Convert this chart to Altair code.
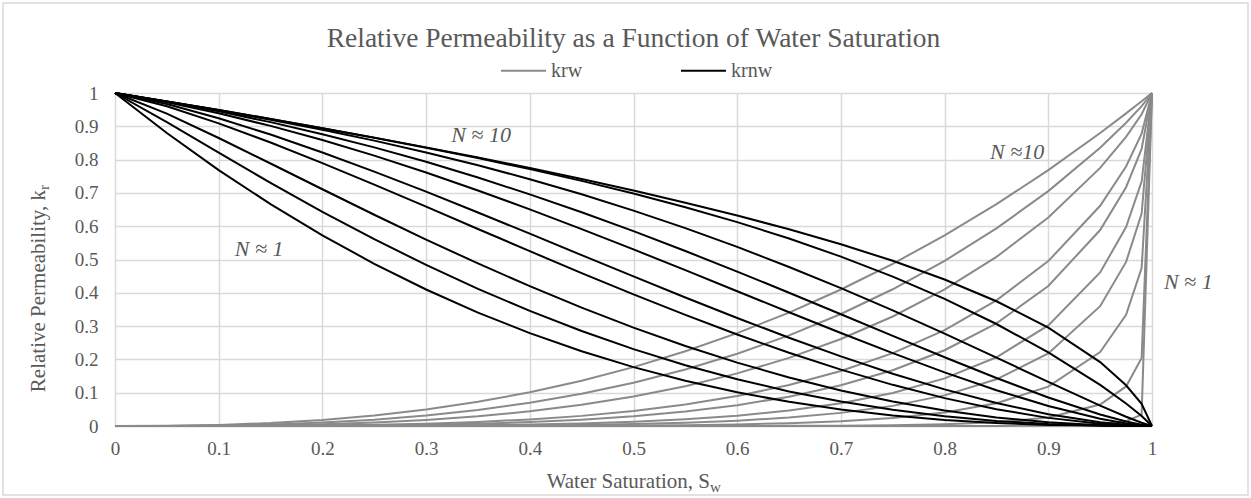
import altair as alt
import pandas as pd

# Water saturation sample points
sw = [0, 0.05, 0.1, 0.15, 0.2, 0.25, 0.3, 0.35, 0.4, 0.45, 0.5, 0.55, 0.6, 0.65,
      0.7, 0.75, 0.8, 0.85, 0.9, 0.95, 0.975, 0.99, 1.0]

# krnw curves (black)
krnw_a = [1, .8797, .7684, .6661, .5724, .4871, .41, .3406, .2789, .2243, .1768, .1358, .1012, .0725, .0493, .0313, .0179, .0087, .0032, .0006, .0001, 0, 0]
krnw_b = [1, .9126, .8207, .7301, .6433, .561, .4838, .4118, .3456, .2853, .2309, .1825, .1403, .1039, .0733, .0485, .0292, .0151, .006, .0012, .0003, 0, 0]
krnw_c = [1, .9382, .8648, .7883, .711, .6344, .5599, .4881, .4198, .3554, .2955, .2402, .1902, .1457, .1067, .0736, .0466, .0258, .0111, .0026, .0006, .0001, 0]
krnw_d = [1, .9602, .9089, .8513, .7894, .7248, .6587, .5916, .525, .4593, .3953, .3335, .2748, .2199, .1692, .1236, .0837, .0503, .0244, .007, .002, .0004, 0]
krnw_e = [1, .9668, .9242, .8753, .8215, .7639, .7037, .6412, .5776, .5131, .4491, .3858, .3243, .2651, .2091, .157, .1099, .0689, .0354, .0111, .0034, .0007, 0]
krnw_f = [1, .9723, .9392, .9012, .8586, .8119, .7614, .7074, .6507, .5914, .5303, .4679, .4048, .3416, .2793, .2188, .161, .1075, .0601, .0218, .0078, .002, 0]
krnw_g = [1, .9739, .9449, .9125, .8764, .8367, .7934, .7461, .6956, .6418, .5851, .5254, .4638, .4003, .3357, .2708, .2064, .1441, .0857, .0345, .0136, .004, 0]
krnw_h = [1, .9746, .9481, .9199, .8896, .857, .8216, .783, .7412, .6958, .6469, .5942, .5378, .4776, .4139, .347, .2772, .2053, .1324, .061, .0277, .0096, 0]
krnw_i = [1, .9747, .9487, .922, .8943, .8657, .8359, .8045, .7714, .7361, .6982, .6571, .6123, .5631, .5088, .4487, .3816, .3063, .2212, .1234, .0675, .0299, 0]
krnw_j = [1, .9747, .9487, .922, .8944, .866, .8367, .8062, .7746, .7416, .707, .6706, .6321, .5907, .5457, .4961, .44, .3746, .2953, .1919, .1222, .0664, 0]

# krw curves (gray)
krw_a = [0, .0006, .0032, .0087, .0179, .0313, .0493, .0725, .1012, .1358, .1768, .2243, .2789, .3406, .41, .4871, .5724, .6661, .7684, .8797, .9387, .9752, 1]
krw_b = [0, .0002, .0016, .0047, .0103, .019, .0314, .0482, .0697, .0968, .1299, .1697, .2169, .2722, .3364, .4106, .4958, .5933, .7054, .8358, .9106, .9607, 1]
krw_c = [0, .0001, .0007, .0022, .0053, .0104, .0181, .0291, .0441, .0636, .0884, .1196, .158, .2047, .2612, .3289, .4101, .5078, .6263, .775, .8682, .9362, 1]
krw_d = [0, 0, .0001, .0006, .0016, .0036, .007, .0122, .0198, .0304, .045, .0645, .0899, .1229, .1651, .219, .2879, .3773, .4952, .6613, .7793, .8781, 1]
krw_e = [0, 0, .0001, .0003, .0008, .0019, .0038, .0069, .0118, .019, .0292, .0433, .0624, .0881, .1222, .1673, .2275, .3081, .4203, .5885, .7171, .8321, 1]
krw_f = [0, 0, 0, 0, .0002, .0005, .0012, .0024, .0044, .0077, .0127, .0202, .031, .0465, .0684, .0993, .1431, .2065, .3019, .461, .5974, .7341, 1]
krw_g = [0, 0, 0, 0, 0, .0001, .0004, .0009, .0017, .0033, .0058, .0098, .016, .0254, .0394, .0604, .0919, .1402, .218, .3597, .4927, .6379, 1]
krw_h = [0, 0, 0, 0, 0, 0, 0, .0001, .0003, .0007, .0013, .0026, .0047, .0083, .0143, .0242, .0405, .0682, .1182, .2223, .3342, .4741, 1]
krw_i = [0, 0, 0, 0, 0, 0, 0, 0, 0, 0, 0, .0001, .0002, .0005, .0011, .0024, .0052, .0113, .0254, .0645, .1188, .2041, 1]
krw_j = [0, 0, 0, 0, 0, 0, 0, 0, 0, 0, 0, 0, 0, 0, 0, 0, .0001, .0003, .0011, .0053, .0144, .0342, 1]

krw_curves = [krw_a, krw_b, krw_c, krw_d, krw_e, krw_f, krw_g, krw_h, krw_i, krw_j]
krnw_curves = [krnw_a, krnw_b, krnw_c, krnw_d, krnw_e, krnw_f, krnw_g, krnw_h, krnw_i, krnw_j]

tick_values = [0, 0.1, 0.2, 0.3, 0.4, 0.5, 0.6, 0.7, 0.8, 0.9, 1]

# annotation labels
ann_text = ["N \u2248 10", "N \u2248 1", "N \u224810", "N \u2248 1"]
ann_x = [0.353, 0.139, 0.870, 1.035]
ann_y = [0.875, 0.533, 0.824, 0.431]

TITLE = "Relative Permeability as a Function of Water Saturation"

rows = []
for idx, vals in enumerate(krw_curves):
    for s, v in zip(sw, vals):
        rows.append({"sw": s, "kr": v, "curve": f"w{idx}", "phase": "krw"})
for idx, vals in enumerate(krnw_curves):
    for s, v in zip(sw, vals):
        rows.append({"sw": s, "kr": v, "curve": f"n{idx}", "phase": "krnw"})
df = pd.DataFrame(rows)
ann = pd.DataFrame({"x": ann_x, "y": ann_y, "t": ann_text})
one = pd.DataFrame({"k": [0]})

FONT = "Liberation Serif"
TXT = "#595959"
GRID = "#d9d9d9"

xscale = alt.Scale(domain=[0, 1], nice=False)
yscale = alt.Scale(domain=[0, 1], nice=False)

axis_common = dict(values=tick_values, format="~g", title=None, grid=True,
                   gridColor=GRID, gridWidth=1.5, ticks=False, labelFont=FONT,
                   labelFontSize=19, labelColor=TXT, labelOverlap=False,
                   labelFlush=False)
x_axis = alt.Axis(domainColor=GRID, domainWidth=1.5, labelPadding=13, **axis_common)
y_axis = alt.Axis(domain=False, labelPadding=17, **axis_common)

lines = alt.Chart(df).mark_line(strokeWidth=2, clip=False).encode(
    x=alt.X("sw:Q", scale=xscale, axis=x_axis),
    y=alt.Y("kr:Q", scale=yscale, axis=y_axis),
    detail="curve:N",
    order=alt.Order("sw:Q"),
    color=alt.Color("phase:N",
                    scale=alt.Scale(domain=["krw", "krnw"], range=["#8a8a8a", "#000000"]),
                    legend=alt.Legend(orient="none", legendX=385, legendY=-46,
                                      direction="horizontal", title=None,
                                      symbolType="stroke", symbolSize=2025,
                                      symbolStrokeWidth=2, labelFont=FONT,
                                      labelFontSize=20, labelColor=TXT,
                                      columnPadding=94, labelOffset=4)),
)

labels = alt.Chart(ann).mark_text(font=FONT, fontSize=22, fontStyle="italic",
                                  color=TXT).encode(
    x=alt.X("x:Q", scale=xscale, axis=x_axis),
    y=alt.Y("y:Q", scale=yscale, axis=y_axis),
    text="t:N")

title = alt.Chart(one).mark_text(font=FONT, fontSize=27.5, color=TXT, align="center",
                                 baseline="alphabetic").encode(
    x=alt.value(518.5), y=alt.value(-46), text=alt.value(TITLE))
xtitle = alt.Chart(one).mark_text(font=FONT, fontSize=21, color=TXT, align="right",
                                  baseline="alphabetic").encode(
    x=alt.value(595), y=alt.value(395), text=alt.value("Water Saturation, S"))
xsub = alt.Chart(one).mark_text(font=FONT, fontSize=15, color=TXT, align="left",
                                baseline="alphabetic").encode(
    x=alt.value(595), y=alt.value(399), text=alt.value("w"))
ytitle = alt.Chart(one).mark_text(font=FONT, fontSize=21, color=TXT, align="right",
                                  baseline="alphabetic", angle=270).encode(
    x=alt.value(-70), y=alt.value(97), text=alt.value("Relative Permeability, k"))
ysub = alt.Chart(one).mark_text(font=FONT, fontSize=15, color=TXT, align="left",
                                baseline="alphabetic", angle=270).encode(
    x=alt.value(-66), y=alt.value(97), text=alt.value("r"))
border = alt.Chart(one).mark_rect(fill=None, stroke=GRID, strokeWidth=1.5).encode(
    x=alt.value(-112), x2=alt.value(1133), y=alt.value(-90), y2=alt.value(402))

chart = alt.layer(border, lines, labels, title, xtitle, xsub, ytitle, ysub).properties(
    width=1037, height=333,
    autosize=alt.AutoSizeParams(type="none"),
    padding={"left": 115, "top": 93, "right": 99, "bottom": 71},
).configure_view(stroke=None).configure(background="white")

chart.save("out.html", embed_options={"renderer": "svg", "actions": False})
